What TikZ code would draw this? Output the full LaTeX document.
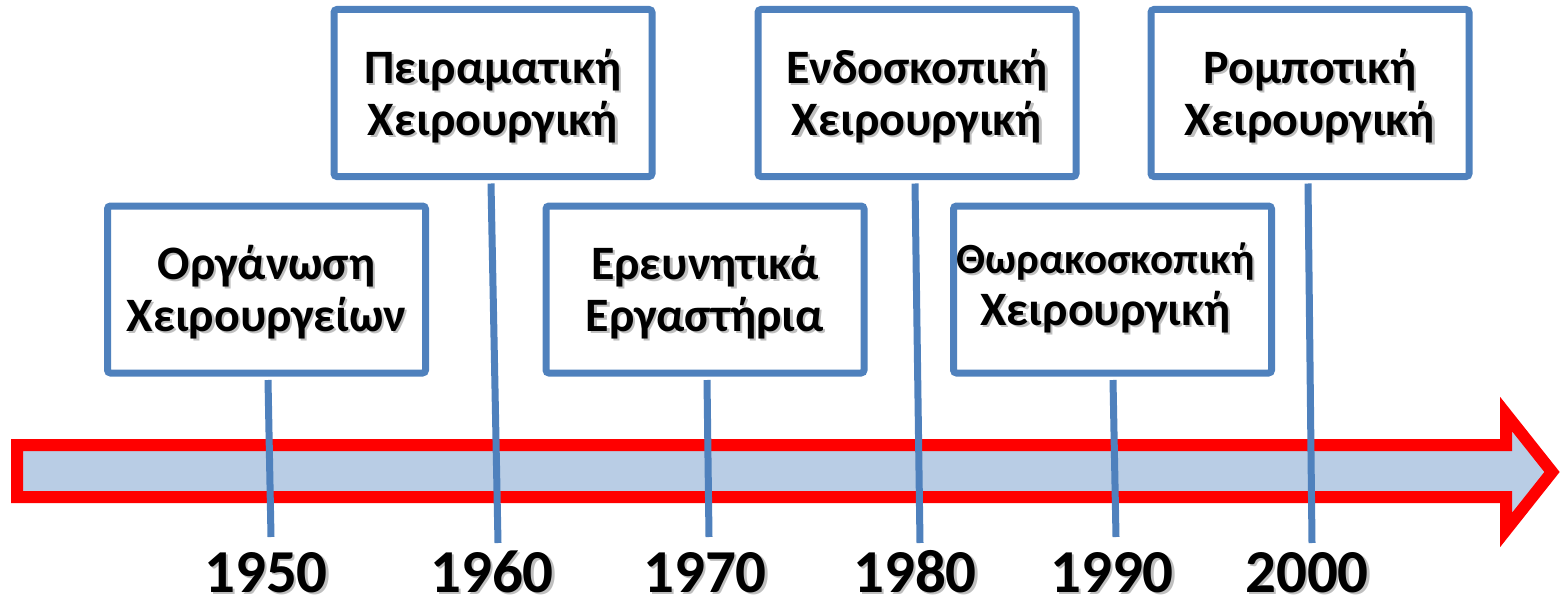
\documentclass[tikz,border=0pt]{standalone}
\usepackage{fontspec}
\setmainfont{Carlito}
\definecolor{boxblue}{HTML}{4F81BD}
\definecolor{arrowfill}{HTML}{B9CDE5}
\definecolor{arrowred}{HTML}{FF0000}
\newcommand\shd[1]{\rlap{\kern2.2pt\raisebox{-2.2pt}{\textcolor{black!25}{#1}}}#1}
\tikzset{
  evbox/.style={draw=boxblue, line width=7pt, fill=white, rounded corners=3pt,
    minimum width=318pt, minimum height=167pt, inner sep=0pt},
  evtext/.style={font=\fontsize{48}{52}\selectfont\bfseries, align=center, inner sep=0pt},
  yeartext/.style={font=\fontsize{61}{66}\selectfont\bfseries, anchor=base, inner sep=0pt},
  conn/.style={draw=boxblue, line width=7pt},
  timeline/.style={draw=arrowred, fill=arrowfill, line width=12pt, line join=miter, miter limit=10}
}
\begin{document}
\begin{tikzpicture}[x=1pt,y=-1pt]
\useasboundingbox (0,0) rectangle (1561,602);
% timeline arrow
\draw[timeline] (17,445) -- (1506,445) -- (1506,414) -- (1552,472) -- (1506,530) -- (1506,497) -- (17,497) -- cycle;
% connector end points
\coordinate (e1) at (271,537);
\coordinate (e2) at (498,543);
\coordinate (e3) at (709,537);
\coordinate (e4) at (920,543);
\coordinate (e5) at (1116,537);
\coordinate (e6) at (1312,543);
% boxes
\node[evbox] (b1) at (266.5,289.5) {};
\node[evbox] (b2) at (493,93) {};
\node[evbox] (b3) at (705,289.5) {};
\node[evbox] (b4) at (917,93) {};
\node[evbox] (b5) at (1112.5,289.5) {};
\node[evbox] (b6) at (1310,93) {};
% connectors
\draw[conn] ([xshift=1.5pt,yshift=-3.5pt]b1.south) -- (e1);
\draw[conn] ([xshift=-2pt,yshift=-3.5pt]b2.south) -- (e2);
\draw[conn] ([xshift=2pt,yshift=-3.5pt]b3.south) -- (e3);
\draw[conn] ([xshift=-2pt,yshift=-3.5pt]b4.south) -- (e4);
\draw[conn] ([xshift=0.5pt,yshift=-3.5pt]b5.south) -- (e5);
\draw[conn] ([xshift=-2pt,yshift=-3.5pt]b6.south) -- (e6);
% texts
\node[evtext] (t1) at ([yshift=-4pt]b1.center) {\shd{Οργάνωση}\\\shd{Χειρουργείων}};
\node[evtext] (t2) at ([yshift=-4pt]b2.center) {\shd{Πειραματική}\\\shd{Χειρουργική}};
\node[evtext] (t3) at ([yshift=-4pt]b3.center) {\shd{Ερευνητικά}\\\shd{Εργαστήρια}};
\node[evtext] (t4) at ([yshift=-4pt]b4.center) {\shd{Ενδοσκοπική}\\\shd{Χειρουργική}};
\node[evtext] (t5) at ([xshift=-7pt,yshift=0.5pt]b5.center) {{\fontsize{43}{47}\selectfont\shd{Θωρακοσκοπική}}\\\shd{Χειρουργική}};
\node[evtext] (t6) at ([yshift=-4pt]b6.center) {\shd{Ρομποτική}\\\shd{Χειρουργική}};
% years
\node[yeartext] (y1) at (266,592) {\shd{1950}};
\node[yeartext] (y2) at (492,592) {\shd{1960}};
\node[yeartext] (y3) at (705,592) {\shd{1970}};
\node[yeartext] (y4) at (915,592) {\shd{1980}};
\node[yeartext] (y5) at (1112,592) {\shd{1990}};
\node[yeartext] (y6) at (1307,592) {\shd{2000}};
\end{tikzpicture}
\end{document}
